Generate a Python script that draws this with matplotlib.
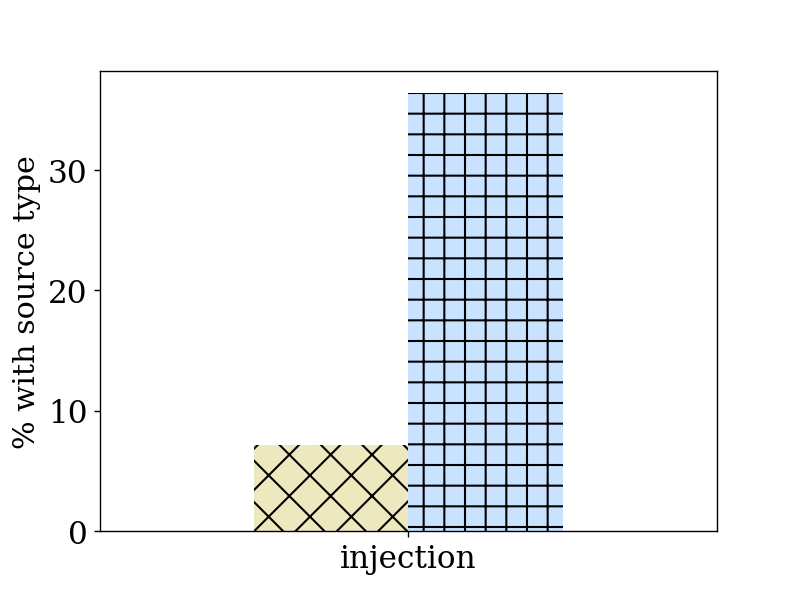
import matplotlib
matplotlib.use("Agg")
import matplotlib.pyplot as plt
import numpy as np

categories = ["injection"]
series_names = ["a", "b"]
values_a = [7.15]
values_b = [36.4]
colors = ["#EEE8BF", "#C9E2FF"]
hatches = ["x", "+"]

plt.rcParams['font.family'] = ['DejaVu Serif']
plt.rcParams['hatch.color'] = 'black'
plt.rcParams['hatch.linewidth'] = 1.2

fig, ax = plt.subplots(figsize=(6.4, 4.8), dpi=124.5)
x = np.arange(len(categories))
w = 0.25
for i, (vals, c, h) in enumerate(zip([values_a, values_b], colors, hatches)):
    ax.bar(x + (i - 0.5) * w, vals, width=w, color=c, hatch=h, linewidth=0)
ax.set_xlim(-0.5, 0.5)
ax.set_xticks(x)
ax.set_xticklabels(categories, fontsize=18)
ax.set_yticks([0, 10, 20, 30])
ax.tick_params(axis='y', labelsize=18)
ax.set_ylabel("% with source type", fontsize=17.5)
fig.savefig("out.png", dpi=124.5)
